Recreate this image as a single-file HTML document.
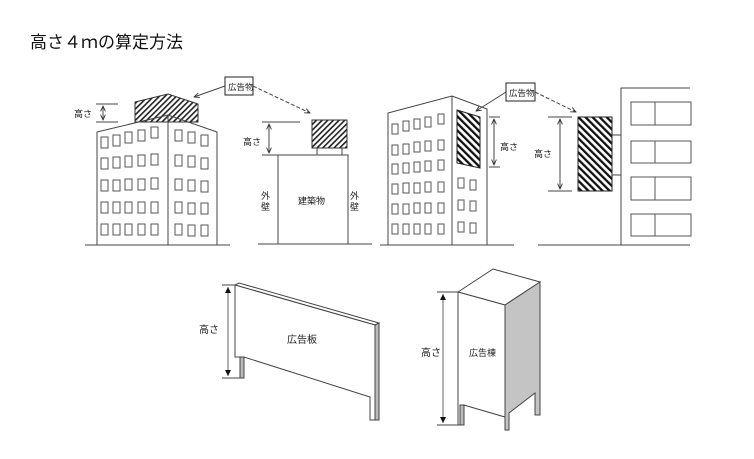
<!DOCTYPE html>
<html><head><meta charset="utf-8"><style>
body{margin:0;background:#fff;}
svg{display:block;font-family:"Liberation Sans","Noto Sans CJK JP",sans-serif;}
</style></head><body>
<svg width="754" height="459" viewBox="0 0 754 459" xmlns="http://www.w3.org/2000/svg">
<defs>
<pattern id="h1" width="4" height="4" patternUnits="userSpaceOnUse" patternTransform="rotate(45)"><rect width="4" height="4" fill="#fff"/><rect width="1.6" height="4" fill="#222"/></pattern>
<pattern id="h2" width="5" height="5" patternUnits="userSpaceOnUse" patternTransform="rotate(-45)"><rect width="5" height="5" fill="#fff"/><rect width="2.3" height="5" fill="#111"/></pattern>
<marker id="a" viewBox="0 0 10 10" refX="9" refY="5" markerWidth="6" markerHeight="6" orient="auto-start-reverse"><path d="M0,1 L9,5 L0,9" fill="none" stroke="#333" stroke-width="1.5"/></marker>
<marker id="t" viewBox="0 0 10 10" refX="10" refY="5" markerWidth="6" markerHeight="6" orient="auto-start-reverse"><path d="M0,0 L10,5 L0,10z" fill="#111"/></marker>
</defs>
<text x="30" y="48" font-size="17" fill="#111">高さ４ｍの算定方法</text>
<g stroke="#444" stroke-width="1" fill="none">
<!-- building 1 -->
<polygon points="135,102 168,94 198,104 198,122 135,122" fill="url(#h1)" stroke="#333"/>
<path d="M97,245 V132 L168,115 L217,132 V245 M168,115 V245 M85,245 H230"/>
<path d="M96,104 H118 M96,122 H118"/>
<line x1="103" y1="106" x2="103" y2="120" marker-start="url(#a)" marker-end="url(#a)"/>
<g stroke="#555">
<rect x="101" y="137" width="7" height="11"/><rect x="113" y="135" width="7" height="11"/><rect x="125" y="132" width="7" height="11"/><rect x="138" y="130" width="7" height="11"/><rect x="151" y="127" width="7" height="11"/>
<rect x="101" y="158" width="7" height="11"/><rect x="113" y="157" width="7" height="11"/><rect x="125" y="156" width="7" height="11"/><rect x="138" y="155" width="7" height="11"/><rect x="151" y="154" width="7" height="11"/>
<rect x="101" y="180" width="7" height="11"/><rect x="113" y="180" width="7" height="11"/><rect x="125" y="179" width="7" height="11"/><rect x="138" y="179" width="7" height="11"/><rect x="151" y="178" width="7" height="11"/>
<rect x="101" y="202" width="7" height="11"/><rect x="113" y="202" width="7" height="11"/><rect x="125" y="202" width="7" height="11"/><rect x="138" y="202" width="7" height="11"/><rect x="151" y="202" width="7" height="11"/>
<rect x="101" y="224" width="7" height="11"/><rect x="113" y="224" width="7" height="11"/><rect x="125" y="224" width="7" height="11"/><rect x="138" y="224" width="7" height="11"/><rect x="151" y="224" width="7" height="11"/>
<rect x="175" y="130" width="7" height="11"/><rect x="188" y="132" width="7" height="11"/><rect x="201" y="135" width="7" height="11"/>
<rect x="175" y="155" width="7" height="11"/><rect x="188" y="156" width="7" height="11"/><rect x="201" y="158" width="7" height="11"/>
<rect x="175" y="179" width="7" height="11"/><rect x="188" y="180" width="7" height="11"/><rect x="201" y="181" width="7" height="11"/>
<rect x="175" y="202" width="7" height="11"/><rect x="188" y="203" width="7" height="11"/><rect x="201" y="203" width="7" height="11"/>
<rect x="175" y="224" width="7" height="11"/><rect x="188" y="225" width="7" height="11"/><rect x="201" y="225" width="7" height="11"/>
</g>
<!-- label 1 -->
<rect x="225" y="77" width="28" height="18" stroke="#222"/>
<line x1="225" y1="86" x2="194" y2="97" marker-end="url(#a)"/>
<line x1="253" y1="86" x2="310" y2="113" stroke-dasharray="4,2" marker-end="url(#a)"/>
<!-- building 2 -->
<rect x="312" y="120" width="35" height="28" fill="url(#h1)" stroke="#333"/>
<path d="M317,148 V155 M342,148 V155"/>
<rect x="278" y="155" width="70" height="89"/>
<path d="M258,244 H372 M262,122 H300 M262,155 H278"/>
<line x1="269" y1="124" x2="269" y2="153" marker-start="url(#a)" marker-end="url(#a)"/>
<!-- building 3 -->
<path d="M388,245 V113 L452,96 L487,109 V245 M452,96 V245 M380,245 H514"/>
<polygon points="457,110 480,117 480,168 457,163" fill="url(#h2)" stroke="#222"/>
<path d="M489,117 H500 M489,167 H500"/>
<line x1="494" y1="119" x2="494" y2="165" marker-start="url(#a)" marker-end="url(#a)"/>
<g stroke="#555">
<rect x="392" y="124" width="6" height="10"/><rect x="403" y="121" width="6" height="10"/><rect x="414" y="119" width="6" height="10"/><rect x="425" y="117" width="6" height="10"/><rect x="438" y="114" width="6" height="10"/>
<rect x="392" y="145" width="6" height="10"/><rect x="403" y="144" width="6" height="10"/><rect x="414" y="142" width="6" height="10"/><rect x="425" y="141" width="6" height="10"/><rect x="438" y="140" width="6" height="10"/>
<rect x="392" y="164" width="6" height="10"/><rect x="403" y="163" width="6" height="10"/><rect x="414" y="162" width="6" height="10"/><rect x="425" y="161" width="6" height="10"/><rect x="438" y="160" width="6" height="10"/>
<rect x="392" y="184" width="6" height="10"/><rect x="403" y="183" width="6" height="10"/><rect x="414" y="183" width="6" height="10"/><rect x="425" y="182" width="6" height="10"/><rect x="438" y="182" width="6" height="10"/>
<rect x="392" y="204" width="6" height="10"/><rect x="403" y="204" width="6" height="10"/><rect x="414" y="203" width="6" height="10"/><rect x="425" y="203" width="6" height="10"/><rect x="438" y="203" width="6" height="10"/>
<rect x="392" y="224" width="6" height="10"/><rect x="403" y="224" width="6" height="10"/><rect x="414" y="224" width="6" height="10"/><rect x="425" y="224" width="6" height="10"/><rect x="438" y="224" width="6" height="10"/>
<rect x="458" y="178" width="6" height="10"/><rect x="470" y="180" width="6" height="10"/>
<rect x="458" y="200" width="6" height="10"/><rect x="470" y="201" width="6" height="10"/>
<rect x="458" y="222" width="6" height="10"/><rect x="470" y="223" width="6" height="10"/>
</g>
<rect x="506" y="83" width="29" height="18" stroke="#222"/>
<line x1="506" y1="92" x2="476" y2="111" marker-end="url(#a)"/>
<line x1="535" y1="92" x2="576" y2="112" stroke-dasharray="4,2" marker-end="url(#a)"/>
<!-- building 4 -->
<rect x="578" y="117" width="34" height="74" fill="url(#h2)" stroke="#222"/>
<path d="M548,117 H572 M548,191 H572"/>
<line x1="560" y1="119" x2="560" y2="189" marker-start="url(#a)" marker-end="url(#a)"/>
<path d="M612,135 H621 M612,175 H621 M621,245 V88 H690 M538,245 H690"/>
<g stroke="#555">
<rect x="631" y="102" width="60" height="23"/><line x1="655" y1="102" x2="655" y2="125"/>
<rect x="631" y="141" width="60" height="22"/><line x1="655" y1="141" x2="655" y2="163"/>
<rect x="631" y="177" width="60" height="23"/><line x1="655" y1="177" x2="655" y2="200"/>
<rect x="631" y="214" width="60" height="22"/><line x1="655" y1="214" x2="655" y2="236"/>
</g>
<!-- board -->
<polygon points="235,285 239,283 379,323 375,325" fill="#fff"/>
<polygon points="375,325 379,323 379,420 375,420" fill="#bbb"/>
<path d="M235,285 L375,325 V420 H370 V397 L244,357 V378 H240 V357 L235,357 Z" fill="#fff"/>
<rect x="240" y="357" width="4" height="21" fill="#bbb"/>
<line x1="228" y1="287" x2="228" y2="376" stroke="#666" marker-start="url(#t)" marker-end="url(#t)"/>
<path d="M222,285 H235 M222,378 H240"/>
<!-- tower -->
<polygon points="458,292 505,305 540,282 493,269" fill="#fff"/>
<polygon points="505,305 540,282 540,415 535,415 535,393 509,413 509,430 505,430" fill="#c4c4c4"/>
<path d="M458,292 V425 H464 V405 L505,417 V430" fill="none"/>
<polygon points="458,292 505,305 505,417 464,405 464,425 458,425" fill="#fff"/>
<rect x="460" y="405" width="4" height="20" fill="#bbb"/>
<line x1="443" y1="294" x2="443" y2="423" stroke="#666" marker-start="url(#t)" marker-end="url(#t)"/>
<path d="M437,292 H458 M437,425 H458"/>
</g>
<g font-size="9" fill="#222">
<text x="74" y="117">高さ</text>
<text x="228" y="90" font-size="8.5">広告物</text>
<text x="243" y="145">高さ</text>
<text x="298" y="204">建築物</text>
<text x="261" y="199">外</text><text x="261" y="210">壁</text>
<text x="350" y="199">外</text><text x="350" y="210">壁</text>
<text x="509" y="96" font-size="8.5">広告物</text>
<text x="500" y="150">高さ</text>
<text x="534" y="157">高さ</text>
<text x="199" y="333" font-size="10">高さ</text>
<text x="287" y="343" font-size="10">広告板</text>
<text x="421" y="356" font-size="10">高さ</text>
<text x="469" y="356" font-size="9">広告棟</text>
</g>
</svg>
</body></html>
